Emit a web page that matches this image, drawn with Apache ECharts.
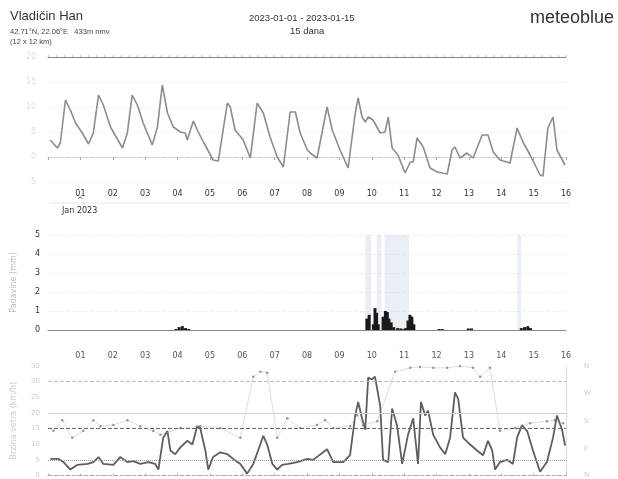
<!DOCTYPE html>
<html><head><meta charset="utf-8">
<script src="https://cdn.jsdelivr.net/npm/echarts@6/dist/echarts.min.js"></script>
<style>html,body{margin:0;padding:0;background:#fff}#c{width:618px;height:479px}</style>
</head><body><div id="c"></div>
<script>
const dayLabels = ['01','02','03','04','05','06','07','08','09','10','11','12','13','14','15','16'];
// temperature [day, °C]
const temperature = [[0.07,3.4],[0.29,1.8],[0.38,2.8],[0.54,11.4],[0.69,9.4],[0.85,6.8],[1.06,4.8],[1.25,2.6],[1.40,4.8],[1.56,12.4],[1.71,10.4],[1.93,6.0],[2.30,1.8],[2.45,4.8],[2.60,12.4],[2.76,10.4],[2.94,6.8],[3.22,2.4],[3.38,6.0],[3.53,14.4],[3.69,8.8],[3.87,6.0],[4.09,5.0],[4.24,4.8],[4.30,3.4],[4.49,7.2],[4.61,5.4],[4.80,3.0],[5.10,-0.6],[5.26,-0.8],[5.54,10.8],[5.63,10.0],[5.78,5.4],[6.03,3.4],[6.25,-0.2],[6.46,10.8],[6.65,8.8],[6.86,4.0],[7.08,0.0],[7.27,-2.0],[7.48,9.0],[7.64,9.0],[7.79,4.8],[8.01,1.4],[8.10,0.8],[8.31,-0.2],[8.62,10.0],[8.78,5.4],[9.02,1.4],[9.27,-2.2],[9.49,8.8],[9.58,11.8],[9.70,8.0],[9.80,7.0],[9.89,8.0],[10.04,7.4],[10.26,4.8],[10.41,5.0],[10.51,8.0],[10.63,1.8],[10.81,0.4],[11.03,-3.2],[11.19,-1.0],[11.28,-1.0],[11.40,3.8],[11.59,2.0],[11.80,-2.2],[12.02,-3.0],[12.33,-3.4],[12.48,1.4],[12.57,2.0],[12.73,-0.2],[12.94,0.8],[13.13,-0.2],[13.41,4.4],[13.59,4.4],[13.75,1.0],[13.96,-0.6],[14.27,-1.2],[14.49,5.8],[14.67,3.0],[14.89,0.4],[15.20,-3.6],[15.29,-3.8],[15.44,5.8],[15.60,8.0],[15.72,1.4],[15.97,-1.6]];
// precipitation [day, mm]
const precipitation = [[3.95,0.05],[4.05,0.15],[4.15,0.2],[4.25,0.1],[4.35,0.05],[9.85,0.6],[9.92,0.8],[10.05,0.3],[10.10,1.15],[10.15,0.9],[10.20,0.3],[10.35,0.7],[10.42,1.0],[10.48,0.95],[10.53,0.6],[10.60,0.4],[10.68,0.15],[10.80,0.1],[10.90,0.08],[11.00,0.05],[11.05,0.1],[11.12,0.5],[11.18,0.8],[11.24,0.7],[11.30,0.3],[12.08,0.05],[12.18,0.05],[12.98,0.08],[13.08,0.08],[14.62,0.1],[14.72,0.15],[14.82,0.2],[14.9,0.1]];
// shaded precipitation bands [from day, to day]
const precipBands = [[9.8,9.98],[10.15,10.3],[10.4,11.15],[14.5,14.62]];
// wind speed [day, km/h]
const windSpeed = [[0.07,5.3],[0.32,5.3],[0.48,4.3],[0.69,1.9],[0.91,3.4],[1.22,3.7],[1.40,4.3],[1.56,5.9],[1.71,3.7],[2.02,3.4],[2.23,5.9],[2.45,4.3],[2.64,4.6],[2.85,3.7],[3.10,4.3],[3.31,3.7],[3.41,1.9],[3.56,12.1],[3.69,14.2],[3.78,8.0],[3.93,6.8],[4.09,9.0],[4.30,11.1],[4.46,9.9],[4.61,15.8],[4.70,15.2],[4.86,8.0],[4.95,1.9],[5.10,5.9],[5.32,7.4],[5.54,6.8],[5.72,5.3],[5.94,3.7],[6.15,0.6],[6.34,3.7],[6.49,8.0],[6.65,12.7],[6.77,9.9],[6.93,3.7],[7.08,1.9],[7.23,3.4],[7.42,3.7],[7.70,4.3],[8.01,5.3],[8.19,5.0],[8.62,8.4],[8.81,4.3],[9.12,4.3],[9.33,6.5],[9.49,19.2],[9.58,23.5],[9.70,18.3],[9.80,14.6],[9.89,31.3],[10.01,30.7],[10.10,31.6],[10.26,22.3],[10.35,5.0],[10.51,4.3],[10.63,21.4],[10.78,16.1],[10.94,3.7],[11.12,13.0],[11.28,18.3],[11.43,3.7],[11.52,23.5],[11.65,19.2],[11.74,20.7],[11.90,13.0],[12.11,9.0],[12.27,6.8],[12.42,12.1],[12.57,26.6],[12.67,24.5],[12.82,12.1],[13.04,9.9],[13.25,8.0],[13.44,6.5],[13.59,11.1],[13.72,8.0],[13.81,1.9],[13.96,4.3],[14.18,5.0],[14.36,3.7],[14.49,12.1],[14.64,16.1],[14.80,14.2],[14.98,8.0],[15.20,1.2],[15.41,4.3],[15.60,12.1],[15.72,19.2],[15.88,14.6],[15.97,9.6]];
// wind direction [day, degrees]
const windDirection = [[0.17,147],[0.44,182],[0.75,124],[1.09,147],[1.40,182],[1.62,162],[2.02,166],[2.45,182],[2.85,162],[3.25,147],[3.47,134],[4.09,156],[4.70,162],[5.32,156],[5.94,124],[6.34,325],[6.56,341],[6.77,338],[7.08,124],[7.39,188],[7.79,156],[8.31,166],[8.56,182],[8.81,156],[9.33,162],[9.55,198],[9.73,166],[10.17,178],[10.72,341],[11.19,354],[11.49,357],[11.90,354],[12.33,354],[12.73,360],[13.13,354],[13.35,325],[13.65,354],[13.96,147],[14.43,156],[14.89,172],[15.41,178],[15.65,182],[15.91,172]];
const windRefLines = [5, 15, 20, 30];

const chart = echarts.init(document.getElementById('c'));
const font = 'DejaVu Sans';
const tfont = 'Liberation Sans';
const dayFmt = v => (Number.isInteger(v) && v >= 1 && v <= 16) ? dayLabels[v - 1] : '';
const G = {left: 48, right: 52};
const refStyles = [
  {type: 'dotted', color: '#999', width: 1},
  {type: 'dashed', color: '#666', width: 1},
  {type: 'solid', color: '#cfcfcf', width: 1},
  {type: 'dashed', color: '#bbb', width: 1}
];

chart.setOption({
  animation: false,
  textStyle: {fontFamily: font},
  grid: [
    {left: G.left, right: G.right, top: 57, height: 125},
    {left: G.left, right: G.right, top: 235, height: 95},
    {left: G.left, right: G.right, top: 366, height: 113}
  ],
  xAxis: [
    {gridIndex: 0, type: 'value', min: 0, max: 16, interval: 1, position: 'bottom',
      axisLine: {lineStyle: {color: '#ccc', type: 'dashed'}}, axisTick: {show: true, length: 3, lineStyle: {color: '#aaa'}},
      axisLabel: {formatter: dayFmt, color: '#333', fontSize: 8, margin: 8}, splitLine: {show: false}},
    {gridIndex: 0, type: 'value', min: 0, max: 16, interval: 0.25, position: 'top',
      axisLine: {show: true, lineStyle: {color: '#888'}}, axisTick: {show: true, length: 2, inside: false, lineStyle: {color: '#bbb'}},
      axisLabel: {show: false}, splitLine: {show: false}},
    {gridIndex: 1, type: 'value', min: 0, max: 16, interval: 1,
      axisLine: {lineStyle: {color: '#888'}}, axisTick: {show: false}, axisLabel: {show: false}, splitLine: {show: false}},
    {gridIndex: 2, type: 'value', min: 0, max: 16, interval: 1, position: 'top',
      axisLine: {lineStyle: {color: '#aaa', type: 'dashed'}}, axisTick: {show: true, length: 2, lineStyle: {color: '#aaa'}},
      axisLabel: {formatter: dayFmt, color: '#555', fontSize: 8, margin: 6}, splitLine: {show: false}}
  ],
  yAxis: [
    {gridIndex: 0, type: 'value', min: -5, max: 20, interval: 5,
      axisLine: {show: false}, axisTick: {show: false},
      axisLabel: {color: '#dedede', fontSize: 8, margin: 12}, splitLine: {lineStyle: {color: '#f6f6f6'}}},
    {gridIndex: 1, type: 'value', min: 0, max: 5, interval: 1,
      name: 'Padavine (mm)', nameLocation: 'middle', nameGap: 30, nameRotate: 90,
      nameTextStyle: {color: '#bbb', fontSize: 8},
      axisLine: {show: false}, axisTick: {show: false},
      axisLabel: {color: '#333', fontSize: 8, margin: 8}, splitLine: {lineStyle: {color: '#f0f0f0', type: 'dashed'}}},
    {gridIndex: 2, type: 'value', min: 0, max: 35, interval: 5,
      name: 'Brzina vetra (km/h)', nameLocation: 'middle', nameGap: 30, nameRotate: 90,
      nameTextStyle: {color: '#ccc', fontSize: 8},
      axisLine: {show: false}, axisTick: {show: false},
      axisLabel: {color: '#ccc', fontSize: 7, margin: 8}, splitLine: {show: false}},
    {gridIndex: 2, type: 'value', min: 0, max: 360, interval: 90, position: 'right',
      axisLine: {show: true, lineStyle: {color: '#ddd'}}, axisTick: {show: false},
      axisLabel: {color: '#ccc', fontSize: 7, margin: 18, formatter: v => ({0:'N',90:'E',180:'S',270:'W',360:'N'})[v]},
      splitLine: {show: false}}
  ],
  series: [
    {type: 'line', xAxisIndex: 0, yAxisIndex: 0, data: temperature, symbol: 'none',
      lineStyle: {color: '#8c8c8c', width: 1.6}},
    {type: 'bar', xAxisIndex: 2, yAxisIndex: 1, data: precipitation, barWidth: 3,
      itemStyle: {color: '#1a1a1a'},
      markArea: {silent: true, itemStyle: {color: 'rgba(195,208,225,0.35)'},
        data: precipBands.map(b => [{xAxis: b[0]}, {xAxis: b[1]}])}},
    {type: 'line', xAxisIndex: 3, yAxisIndex: 2, data: windSpeed, symbol: 'none',
      lineStyle: {color: '#5e5e5e', width: 1.8},
      markLine: {silent: true, symbol: 'none', label: {show: false},
        data: windRefLines.map((v, i) => ({yAxis: v, lineStyle: refStyles[i]}))}},
    {type: 'scatter', xAxisIndex: 3, yAxisIndex: 3, data: windDirection, symbolSize: 2.5,
      itemStyle: {color: '#777'}},
    {type: 'line', xAxisIndex: 3, yAxisIndex: 3, data: windDirection, symbol: 'none',
      lineStyle: {color: '#aaa', width: 0.8, type: 'dotted'}}
  ],
  graphic: [
    {type: 'text', left: 10, top: 10, style: {text: 'Vladičin Han', fontSize: 13, fill: '#333', fontFamily: tfont}},
    {type: 'text', left: 10, top: 28, style: {text: '42.71°N, 22.06°E   433m nmv', fontSize: 7.5, fill: '#444', fontFamily: tfont}},
    {type: 'text', left: 10, top: 38, style: {text: '(12 x 12 km)', fontSize: 7.5, fill: '#444', fontFamily: tfont}},
    {type: 'text', left: 249, top: 13, style: {text: '2023-01-01 - 2023-01-15', fontSize: 9.5, fill: '#333', fontFamily: tfont}},
    {type: 'text', left: 290, top: 26, style: {text: '15 dana', fontSize: 9.5, fill: '#333', fontFamily: tfont}},
    {type: 'text', left: 530, top: 9, style: {text: 'meteoblue', fontSize: 18, fill: '#333', fontFamily: tfont}},
    {type: 'line', shape: {x1: 50, y1: 203, x2: 570, y2: 203}, style: {stroke: '#e8e8e8', lineWidth: 1}},
    {type: 'text', left: 77, top: 197, style: {text: '^', fontSize: 8, fill: '#555', fontFamily: font}},
    {type: 'text', left: 62, top: 207, style: {text: 'Jan 2023', fontSize: 8, fill: '#333', fontFamily: font}}
  ]
});
</script></body></html>
